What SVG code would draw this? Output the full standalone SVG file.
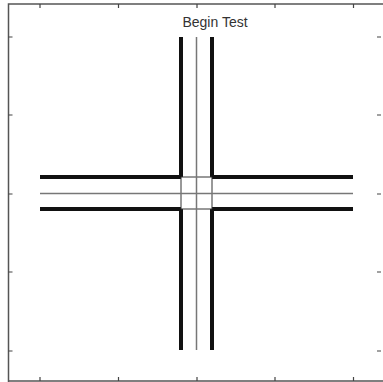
<svg xmlns="http://www.w3.org/2000/svg" width="383" height="382" viewBox="0 0 383 382">
<style>
.frame{stroke:#555;stroke-width:1.5;fill:none}
.tick{stroke:#444;stroke-width:1.2}
.thick{stroke:#111;stroke-width:4;stroke-linecap:butt}
.thin{stroke:#777;stroke-width:1.5}
.inner{stroke:#333;stroke-width:1}
.title{font-family:"Liberation Sans",Arial,sans-serif;font-size:14px;fill:#333}
</style>
<rect width="383" height="382" fill="#fff"/>
<g id="axes">
<path class="frame" d="M8.5,382 V4 H383 M8.5,381 H383"/>
<g class="tick">
<path d="M40,4V8 M118.5,4V8 M197,4V8 M275,4V8 M353.5,4V8"/>
<path d="M40,381V377 M118.5,381V377 M197,381V377 M275,381V377 M353.5,381V377"/>
<path d="M8.5,37H12.5 M8.5,115H12.5 M8.5,194H12.5 M8.5,272H12.5 M8.5,351H12.5"/>
<path d="M381,37H377 M381,115H377 M381,194H377 M381,272H377 M381,351H377"/>
</g>
</g>
<text class="title" x="215" y="26.5" text-anchor="middle">Begin Test</text>
<g id="connectors">
<path class="thick" d="M181,37V177 M212,37V177 M181,209V350 M212,209V350"/>
<path class="thick" d="M40,177H181 M212,177H353 M40,209H181 M212,209H353"/>
<path class="inner" d="M181,177V209 M212,177V209 M181,177H212 M181,209H212"/>
<path class="thin" d="M196.5,37V350 M40,193.5H353"/>
</g>
</svg>
